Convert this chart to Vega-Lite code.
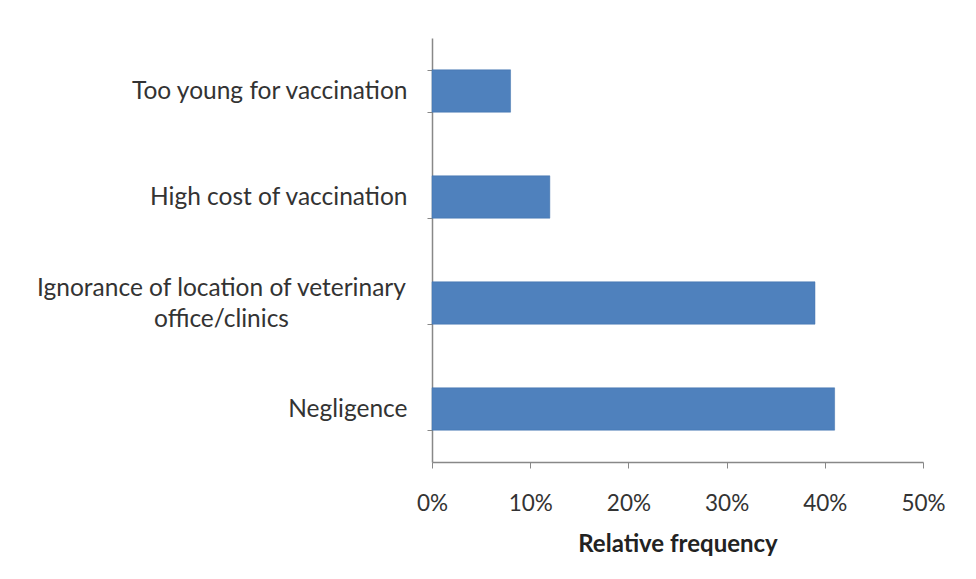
{
  "$schema": "https://vega.github.io/schema/vega-lite/v6.json",
  "width": 491,
  "height": 424,
  "autosize": {"type": "none"},
  "padding": {"left": 432, "top": 38, "right": 53, "bottom": 117},
  "background": "white",
  "data": {
    "values": [
      {"reason": "Too young for vaccination", "freq": 0.08},
      {"reason": "High cost of vaccination", "freq": 0.12},
      {"reason": "Ignorance of location of veterinary office/clinics", "freq": 0.39},
      {"reason": "Negligence", "freq": 0.41}
    ]
  },
  "mark": {"type": "bar", "color": "#4f81bd", "stroke": "#3f70ad", "strokeWidth": 0.5},
  "encoding": {
    "y": {
      "field": "reason",
      "type": "nominal",
      "sort": null,
      "scale": {"paddingInner": 0.6, "paddingOuter": 0.3},
      "axis": {
        "title": null,
        "labelFont": "Lato",
        "labelFontSize": 24.5,
        "labelColor": "#333333",
        "labelLimit": 600,
        "labelExpr": "datum.value == 'Ignorance of location of veterinary office/clinics' ? ['Ignorance of location of veterinary', 'office/clinics'] : datum.value",
        "labelAlign": {"condition": {"test": "datum.value == 'Ignorance of location of veterinary office/clinics'", "value": "center"}, "value": "right"},
        "labelPadding": {"condition": {"test": "datum.value == 'Ignorance of location of veterinary office/clinics'", "value": 206}, "value": 20},
        "labelOffset": {"condition": {"test": "datum.value == 'Ignorance of location of veterinary office/clinics'", "value": -15}, "value": 0},
        "labelLineHeight": 31,
        "tickBand": "extent",
        "tickSize": 5,
        "tickColor": "#888888",
        "domainColor": "#888888",
        "domainWidth": 1.5
      }
    },
    "x": {
      "field": "freq",
      "type": "quantitative",
      "scale": {"domain": [0, 0.5], "nice": false},
      "axis": {
        "title": "Relative frequency",
        "titleFont": "Lato",
        "titleFontSize": 24,
        "titleFontWeight": "bold",
        "titleColor": "#222222",
        "titlePadding": 18,
        "format": ".0%",
        "values": [0, 0.1, 0.2, 0.3, 0.4, 0.5],
        "grid": false,
        "labelFlush": false,
        "labelFont": "Lato",
        "labelFontSize": 22.5,
        "labelColor": "#333333",
        "labelPadding": 24,
        "tickSize": 6,
        "tickColor": "#888888",
        "domainColor": "#888888",
        "domainWidth": 1.5
      }
    }
  },
  "config": {"view": {"stroke": null}}
}
